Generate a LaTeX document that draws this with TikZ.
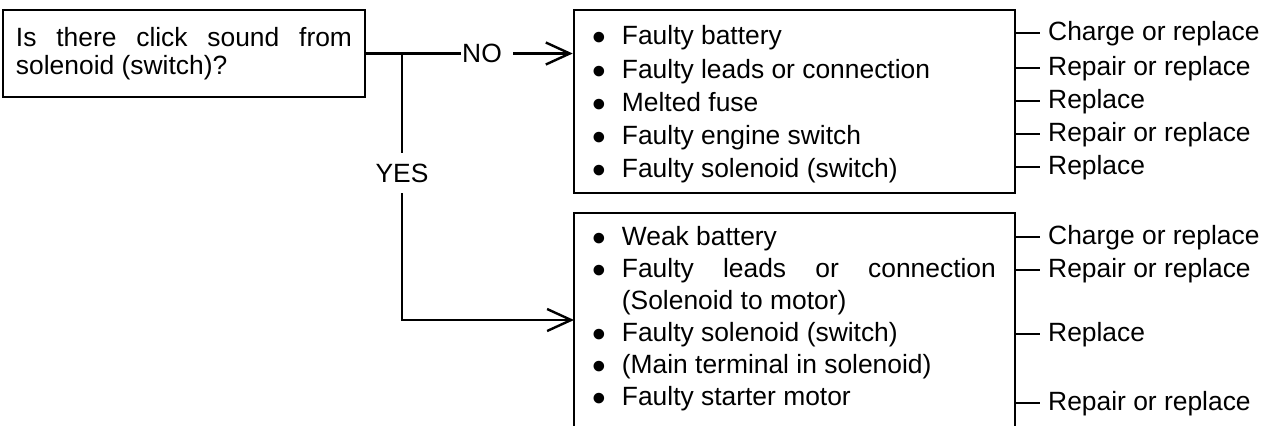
\documentclass[tikz,border=0pt]{standalone}
\usepackage{fontspec}
\setmainfont{Liberation Sans}
\usetikzlibrary{arrows.meta, positioning}
\tolerance=10000
\hyphenpenalty=10000
\newcommand{\blt}{\makebox[5pt]{\raisebox{-3pt}{\fontsize{19.5}{19.5}\selectfont\textbullet}}}

\begin{document}
\begin{tikzpicture}[x=0.5pt, y=-0.5pt, line width=1.2pt,
    font=\fontsize{13.2}{16.6}\selectfont,
    box/.style={draw, line width=1.3pt, minimum width=220.5pt, inner sep=0pt},
    list/.style={inner sep=0pt},
    act/.style={anchor=base west, inner xsep=3.5pt, inner ysep=0pt, text height=9.6pt, text depth=2.8pt},
    tick/.style={line width=0.8pt},
    arr/.style={-{Straight Barb[length=12pt, width=11pt]}}]
  \useasboundingbox (0,0) rectangle (1262,425);

  % question
  \node[draw, line width=1.3pt, minimum width=181pt, minimum height=43.5pt, text width=168pt,
    align=justify, font=\fontsize{13.2}{14}\selectfont] (quest) at (184,53.5)
    {Is there click sound from solenoid (switch)?};

  % cause boxes
  \node[box, minimum height=91.5pt] (nobox) at (794.5,101.5) {};
  \node[box, minimum height=118.5pt] (yesbox) at (794.5,331.5) {};

  \node[list, below right=5.9pt and 10pt of nobox.north west] (nolist) {%
    \begin{tabular}{@{}l@{\hspace{9pt}}p{187pt}@{}}
      \blt & Faulty battery\\
      \blt & Faulty leads or connection\\
      \blt & Melted fuse\\
      \blt & Faulty engine switch\\
      \blt & Faulty solenoid (switch)
    \end{tabular}};
  \node[list, below right=4.9pt and 10pt of yesbox.north west,
    font=\fontsize{13.2}{16}\selectfont] (yeslist) {%
    \begin{tabular}{@{}l@{\hspace{9pt}}p{187pt}@{}}
      \blt & Weak battery\\
      \blt & Faulty leads or connection (Solenoid to motor)\\
      \blt & Faulty solenoid (switch)\\
      \blt & (Main terminal in solenoid)\\
      \blt & Faulty starter motor
    \end{tabular}};

  % branches
  \node[anchor=west, inner sep=0pt, text height=9.45pt, text depth=0pt] (no) at (461,53.5) {NO};
  \node[anchor=base, inner xsep=0pt, inner ysep=4.7pt, text height=9.45pt, text depth=0pt] (yes) at (402,182.5) {YES};
  \coordinate (split) at (402,53.5);
  \coordinate (yesin) at (574,320);
  \draw (quest.east) -- (no.west);
  \draw[arr] ([xshift=5pt]no.east) -- (nobox.west |- no.east);
  \draw (split) -- (yes.north);
  \draw[arr] (yes.south) |- (yesin);

  % remedies
  \node[act] (r1) at (1040,40) {Charge or replace};
  \node[act] (r2) at (1040,75) {Repair or replace};
  \node[act] (r3) at (1040,108) {Replace};
  \node[act] (r4) at (1040,141) {Repair or replace};
  \node[act] (r5) at (1040,174) {Replace};
  \node[act] (r6) at (1040,244) {Charge or replace};
  \node[act] (r7) at (1040,277) {Repair or replace};
  \node[act] (r8) at (1040,341) {Replace};
  \node[act] (r9) at (1040,410) {Repair or replace};
  \draw[tick] (nobox.east |- r1.west) -- (r1.west);
  \draw[tick] (nobox.east |- r2.west) -- (r2.west);
  \draw[tick] (nobox.east |- r3.west) -- (r3.west);
  \draw[tick] (nobox.east |- r4.west) -- (r4.west);
  \draw[tick] (nobox.east |- r5.west) -- (r5.west);
  \draw[tick] (yesbox.east |- r6.west) -- (r6.west);
  \draw[tick] (yesbox.east |- r7.west) -- (r7.west);
  \draw[tick] (yesbox.east |- r8.west) -- (r8.west);
  \draw[tick] (yesbox.east |- r9.west) -- (r9.west);
\end{tikzpicture}
\end{document}
